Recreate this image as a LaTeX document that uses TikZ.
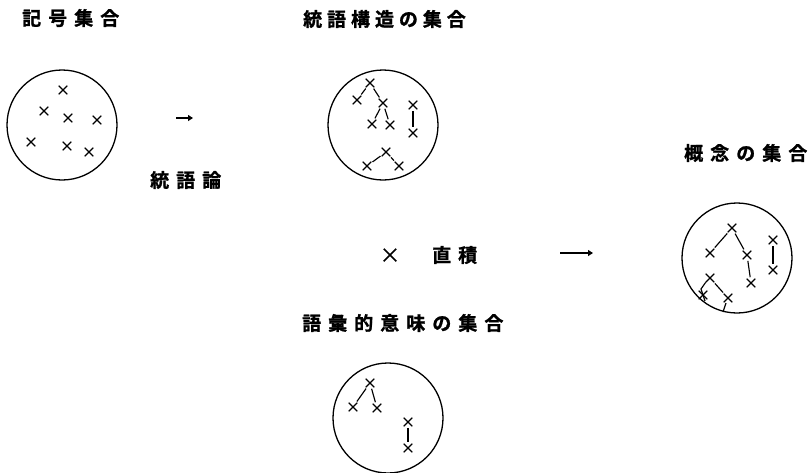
\documentclass[tikz,border=0pt]{standalone}
\usepackage{fontspec}
\usetikzlibrary{shapes.misc,arrows.meta}
\newfontfamily\jp[LetterSpace=37,FakeBold=1.2]{Noto Sans CJK JP Bold}
\newfontfamily\jpn[LetterSpace=26,FakeBold=1.2]{Noto Sans CJK JP Bold}
\begin{document}
\begin{tikzpicture}[x=1pt,y=-1pt,
  ring/.style={circle,draw,line width=1.3pt,minimum size=110pt,inner sep=0pt},
  xm/.style={cross out,draw,minimum size=7.5pt,inner sep=0pt,line width=1.15pt},
  lk/.style={line width=1.15pt,shorten <=1.5pt,shorten >=1.5pt},
  lbl/.style={anchor=west,inner sep=0pt,font=\jp\fontsize{19}{19}\selectfont},
  lbln/.style={anchor=west,inner sep=0pt,font=\jpn\fontsize{19}{19}\selectfont},
  arr/.style={-{Triangle[length=5pt,width=6pt]},line width=1.1pt}]
\useasboundingbox (0,0) rectangle (808,472);

% titles
\node[lbl] (t1) at (22,18) {記号集合};
\node[lbln] (t2) at (303,19) {統語構造の集合};
\node[lbl] (t3) at (684,153) {概念の集合};
\node[lbl] (t4) at (150,180) {統語論};
\node[lbl] (t5) at (432,255) {直積};
\node[lbl] (t6) at (302,323) {語彙的意味の集合};
\node[cross out,draw,minimum size=11pt,inner sep=0pt,line width=1.5pt] (times) at (390,255) {};

% arrows
\coordinate (a1s) at (176,118); \coordinate (a1e) at (193,118);
\draw[arr] (a1s) -- (a1e);
\coordinate (a2s) at (560,253); \coordinate (a2e) at (593,253);
\draw[arr] (a2s) -- (a2e);

% circle 1
\node[ring] (C1) at (62,125) {};
\node[xm] (p1) at (63,90) {};
\node[xm] (p2) at (44,111) {};
\node[xm] (p3) at (68,118) {};
\node[xm] (p4) at (97,120) {};
\node[xm] (p5) at (31,142) {};
\node[xm] (p6) at (67,146) {};
\node[xm] (p7) at (89,152) {};

% circle 2
\node[ring] (C2) at (383,125) {};
\node[xm] (q1) at (370,83) {};
\node[xm] (q2) at (357,100) {};
\node[xm] (q3) at (383,103) {};
\node[xm] (q4) at (372,124) {};
\node[xm] (q5) at (390,125) {};
\node[xm] (q6) at (413,105) {};
\node[xm] (q7) at (413,133) {};
\node[xm] (q8) at (386,152) {};
\node[xm] (q9) at (367,166) {};
\node[xm] (q10) at (399,166) {};
\draw[lk] (q1) -- (q2);
\draw[lk] (q1) -- (q3);
\draw[lk] (q3) -- (q4);
\draw[lk] (q3) -- (q5);
\draw[lk] (q6) -- (q7);
\draw[lk] (q8) -- (q9);
\draw[lk] (q8) -- (q10);

% circle 3
\node[ring] (C3) at (388,418) {};
\node[xm] (r1) at (370,383) {};
\node[xm] (r2) at (353,407) {};
\node[xm] (r3) at (377,408) {};
\node[xm] (r4) at (408,422) {};
\node[xm] (r5) at (408,448) {};
\draw[lk] (r1) -- (r2);
\draw[lk] (r1) -- (r3);
\draw[lk] (r4) -- (r5);

% circle 4
\node[ring] (C4) at (737,258) {};
\node[xm] (s1) at (732,228) {};
\node[xm] (s2) at (710,253) {};
\node[xm] (s3) at (747,255) {};
\node[xm] (s4) at (773,240) {};
\node[xm] (s5) at (773,270) {};
\node[xm] (s6) at (751,283) {};
\node[xm] (s7) at (710,278) {};
\node[xm] (s8) at (703,295) {};
\node[xm] (s9) at (728,298) {};
\coordinate (k1) at (701,289);
\coordinate (k2) at (705,301);
\coordinate (k3) at (726,303);
\coordinate (k4) at (723,312);
\draw[lk] (s1) -- (s2);
\draw[lk] (s1) -- (s3);
\draw[lk] (s3) -- (s6);
\draw[lk] (s4) -- (s5);
\draw[lk] (s7) -- (s9);
\draw[line width=1.15pt] (s7.south west) -- (k1) -- (k2);
\draw[line width=1.15pt] (k3) -- (k4);
\end{tikzpicture}
\end{document}
